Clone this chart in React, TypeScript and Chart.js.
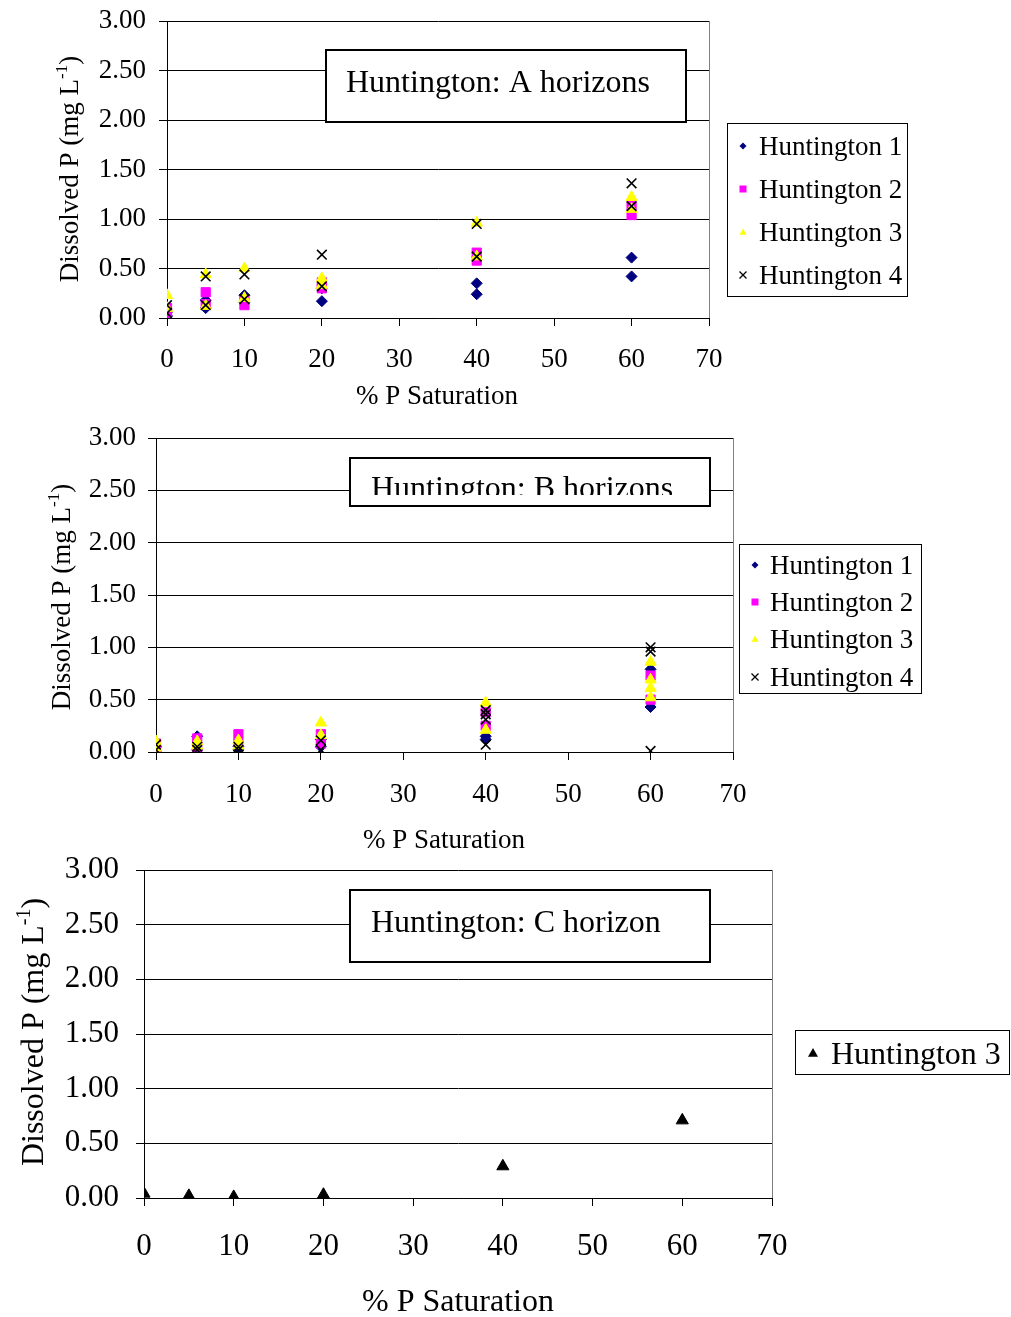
import React, { useEffect, useRef } from 'react';
import { Chart, registerables } from 'chart.js';

Chart.register(...registerables);

// ---- data: [% P saturation, dissolved P (mg/L)] ----
const seriesNames = ['Huntington 1', 'Huntington 2', 'Huntington 3', 'Huntington 4'];
const seriesColors = ['#000080', '#FF00FF', '#FFFF00', '#000000'];
const seriesShapes = ['rectRot', 'rect', 'triangle', 'crossRot'];
const xTickValues = [0, 10, 20, 30, 40, 50, 60, 70];
const yTickValues = [0, 0.5, 1, 1.5, 2, 2.5, 3];

const aHuntington1: [number, number][] = [[0, 0.02], [0, 0.06], [5, 0.10], [5, 0.18], [10, 0.23], [10, 0.16], [20, 0.17], [20, 0.30], [40, 0.35], [40, 0.24], [60, 0.61], [60, 0.42]];
const aHuntington2: [number, number][] = [[0, 0.10], [0, 0.05], [5, 0.26], [5, 0.14], [10, 0.18], [10, 0.13], [20, 0.36], [20, 0.30], [40, 0.66], [40, 0.58], [60, 1.13], [60, 1.04]];
const aHuntington3: [number, number][] = [[0, 0.23], [0, 0.10], [5, 0.44], [5, 0.12], [10, 0.50], [10, 0.20], [20, 0.40], [20, 0.33], [40, 0.96], [40, 0.62], [60, 1.22], [60, 1.10]];
const aHuntington4: [number, number][] = [[0, 0.13], [0, 0.05], [5, 0.42], [5, 0.13], [10, 0.44], [10, 0.19], [20, 0.64], [20, 0.32], [40, 0.95], [40, 0.62], [60, 1.36], [60, 1.13]];

const bHuntington1: [number, number][] = [[0, 0.01], [0, 0.05], [5, 0.15], [5, 0.02], [10, 0.05], [10, 0.02], [20, 0.05], [20, 0.12], [40, 0.15], [40, 0.12], [60, 0.79], [60, 0.43]];
const bHuntington2: [number, number][] = [[0, 0.08], [0, 0.03], [5, 0.13], [5, 0.05], [10, 0.17], [10, 0.08], [20, 0.17], [20, 0.08], [40, 0.38], [40, 0.25], [60, 0.73], [60, 0.50]];
const bHuntington3: [number, number][] = [[0, 0.10], [0, 0.04], [5, 0.10], [5, 0.06], [10, 0.11], [10, 0.06], [20, 0.28], [20, 0.16], [40, 0.47], [40, 0.21], [60, 0.86], [60, 0.69], [60, 0.61], [60, 0.52]];
const bHuntington4: [number, number][] = [[0, 0.07], [0, 0.02], [5, 0.05], [5, 0.02], [10, 0.05], [10, 0.02], [20, 0.11], [20, 0.02], [40, 0.40], [40, 0.31], [40, 0.36], [40, 0.07], [60, 1.00], [60, 0.96], [60, 0.01]];

const cHuntington3: [number, number][] = [[0, 0.04], [5, 0.02], [10, 0.01], [20, 0.03], [40, 0.29], [60, 0.71]];

const SERIF = "'Liberation Serif', 'Times New Roman', serif";
const PAGE_W = 1011;

type Series = { name: string; color: string; shape: string; radius: number; points: [number, number][] };

type PanelCfg = {
  top: number;
  height: number;
  plot: { l: number; r: number; t: number; b: number };
  tickSize: number;
  tickPadX: number;
  tickPadY: number;
  axisSize: number;
  yTitle: { x: number; y: number };
  xTitle: { x: number; y: number };
  box: { l: number; t: number; r: number; b: number; text: string; tx: number; ty: number; clipY?: number };
  legend: { l: number; t: number; r: number; b: number; rowsY: number[]; markerX: number; textX: number; size: number; markerR: number };
  series: Series[];
};

function fourSeries(data: [number, number][][]): Series[] {
  const radii = [5.5, 6.5, 6.5, 6.8];
  return data.map((points, i) => ({
    name: seriesNames[i],
    color: seriesColors[i],
    shape: seriesShapes[i],
    radius: radii[i],
    points,
  }));
}

const panels: PanelCfg[] = [
  {
    top: -12,
    height: 422,
    plot: { l: 167, r: 709, t: 21, b: 318 },
    tickSize: 27,
    tickPadX: 18,
    tickPadY: 13,
    axisSize: 27,
    yTitle: { x: 78, y: 169 },
    xTitle: { x: 437, y: 404 },
    box: { l: 326, t: 50, r: 686, b: 122, text: 'Huntington: A horizons', tx: 346, ty: 92 },
    legend: { l: 727, t: 123, r: 907, b: 296, rowsY: [146, 189, 232, 275], markerX: 743, textX: 759, size: 27, markerR: 3.5 },
    series: fourSeries([aHuntington1, aHuntington2, aHuntington3, aHuntington4]),
  },
  {
    top: 400,
    height: 460,
    plot: { l: 156, r: 733, t: 438, b: 752 },
    tickSize: 27,
    tickPadX: 19,
    tickPadY: 12,
    axisSize: 27,
    yTitle: { x: 70, y: 597 },
    xTitle: { x: 444, y: 848 },
    box: { l: 350, t: 458, r: 710, b: 506, text: 'Huntington: B horizons', tx: 371, ty: 498, clipY: 495 },
    legend: { l: 739, t: 544, r: 921, b: 693, rowsY: [565, 602, 639, 677], markerX: 755, textX: 770, size: 27, markerR: 3.5 },
    series: fourSeries([bHuntington1, bHuntington2, bHuntington3, bHuntington4]),
  },
  {
    top: 828,
    height: 489,
    plot: { l: 144, r: 772, t: 870, b: 1198 },
    tickSize: 31,
    tickPadX: 22,
    tickPadY: 17,
    axisSize: 32,
    yTitle: { x: 43, y: 1032 },
    xTitle: { x: 458, y: 1311 },
    box: { l: 350, t: 890, r: 710, b: 962, text: 'Huntington: C horizon', tx: 371, ty: 932 },
    legend: { l: 795, t: 1030, r: 1009, b: 1074, rowsY: [1053], markerX: 813, textX: 831, size: 32, markerR: 5 },
    series: [{ name: 'Huntington 3', color: '#000000', shape: 'triangle', radius: 7, points: cHuntington3 }],
  },
];

function drawMarker(ctx: CanvasRenderingContext2D, shape: string, x: number, y: number, r: number, color: string) {
  ctx.save();
  ctx.fillStyle = color;
  ctx.strokeStyle = color;
  ctx.beginPath();
  if (shape === 'rectRot') {
    ctx.moveTo(x, y - r);
    ctx.lineTo(x + r, y);
    ctx.lineTo(x, y + r);
    ctx.lineTo(x - r, y);
    ctx.closePath();
    ctx.fill();
  } else if (shape === 'rect') {
    ctx.rect(x - r, y - r, 2 * r, 2 * r);
    ctx.fill();
  } else if (shape === 'triangle') {
    ctx.moveTo(x, y - r);
    ctx.lineTo(x + r, y + r * 0.75);
    ctx.lineTo(x - r, y + r * 0.75);
    ctx.closePath();
    ctx.fill();
  } else {
    ctx.lineWidth = 1.3;
    ctx.moveTo(x - r, y - r);
    ctx.lineTo(x + r, y + r);
    ctx.moveTo(x + r, y - r);
    ctx.lineTo(x - r, y + r);
    ctx.stroke();
  }
  ctx.restore();
}

function makeOverlay(p: PanelCfg) {
  return {
    id: 'panelOverlay',
    afterDraw(chart: Chart) {
      const ctx = chart.ctx;
      const area = chart.chartArea;
      ctx.save();
      ctx.translate(0, -p.top);

      // plot frame, right side
      ctx.strokeStyle = '#808080';
      ctx.lineWidth = 1;
      ctx.beginPath();
      ctx.moveTo(area.right + 0.5, area.top + p.top);
      ctx.lineTo(area.right + 0.5, area.bottom + p.top);
      ctx.stroke();

      // y axis title with superscript
      ctx.save();
      ctx.translate(p.yTitle.x, p.yTitle.y);
      ctx.rotate(-Math.PI / 2);
      ctx.fillStyle = '#000';
      ctx.textBaseline = 'alphabetic';
      const main = `${p.axisSize}px ${SERIF}`;
      const sup = `${Math.round(p.axisSize * 0.62)}px ${SERIF}`;
      const partA = 'Dissolved P (mg L';
      const partB = '-1';
      const partC = ')';
      ctx.font = main;
      const wA = ctx.measureText(partA).width;
      const wC = ctx.measureText(partC).width;
      ctx.font = sup;
      const wB = ctx.measureText(partB).width;
      let cx = -(wA + wB + wC) / 2;
      ctx.font = main;
      ctx.fillText(partA, cx, 0);
      cx += wA;
      ctx.font = sup;
      ctx.fillText(partB, cx, -p.axisSize * 0.42);
      cx += wB;
      ctx.font = main;
      ctx.fillText(partC, cx, 0);
      ctx.restore();

      // x axis title
      ctx.fillStyle = '#000';
      ctx.font = `${p.axisSize}px ${SERIF}`;
      ctx.textAlign = 'center';
      ctx.textBaseline = 'alphabetic';
      ctx.fillText('% P Saturation', p.xTitle.x, p.xTitle.y);

      // title box
      const b = p.box;
      ctx.fillStyle = '#fff';
      ctx.fillRect(b.l, b.t, b.r - b.l, b.b - b.t);
      ctx.save();
      if (b.clipY !== undefined) {
        ctx.beginPath();
        ctx.rect(b.l, b.t, b.r - b.l, b.clipY - b.t);
        ctx.clip();
      }
      ctx.fillStyle = '#000';
      ctx.font = `32px ${SERIF}`;
      ctx.textAlign = 'left';
      ctx.fillText(b.text, b.tx, b.ty);
      ctx.restore();
      ctx.strokeStyle = '#000';
      ctx.lineWidth = 2;
      ctx.strokeRect(b.l, b.t, b.r - b.l, b.b - b.t);

      // legend
      const lg = p.legend;
      ctx.fillStyle = '#fff';
      ctx.fillRect(lg.l, lg.t, lg.r - lg.l, lg.b - lg.t);
      ctx.strokeStyle = '#000';
      ctx.lineWidth = 1;
      ctx.strokeRect(lg.l + 0.5, lg.t + 0.5, lg.r - lg.l, lg.b - lg.t);
      ctx.font = `${lg.size}px ${SERIF}`;
      ctx.textAlign = 'left';
      p.series.forEach((s, i) => {
        const y = lg.rowsY[i];
        drawMarker(ctx, s.shape, lg.markerX, y, lg.markerR, s.color);
        ctx.fillStyle = '#000';
        ctx.fillText(s.name, lg.textX, y + lg.size * 0.33);
      });

      ctx.restore();
    },
  };
}

function ChartPanel({ cfg }: { cfg: PanelCfg }) {
  const ref = useRef<HTMLCanvasElement>(null);

  useEffect(() => {
    const canvas = ref.current;
    if (!canvas) return;
    const tickFont = { family: SERIF, size: cfg.tickSize };
    const chart = new Chart(canvas, {
      type: 'scatter',
      data: {
        datasets: cfg.series.map((s, i) => ({
          label: s.name,
          data: s.points.map(([x, y]) => ({ x, y })),
          pointStyle: s.shape as any,
          pointRadius: s.radius,
          pointHoverRadius: s.radius,
          backgroundColor: s.color,
          borderColor: s.color,
          pointBorderWidth: s.shape === 'crossRot' ? 1.6 : 1,
          showLine: false,
          order: cfg.series.length - 1 - i,
        })),
      },
      options: {
        responsive: false,
        animation: false,
        devicePixelRatio: 1,
        events: [],
        layout: {
          padding: {
            left: 0,
            top: cfg.plot.t - cfg.top,
            right: PAGE_W - cfg.plot.r,
            bottom: 0,
          },
        },
        plugins: {
          legend: { display: false },
          title: { display: false },
          tooltip: { enabled: false },
        },
        scales: {
          x: {
            type: 'linear',
            min: 0,
            max: 70,
            afterBuildTicks: (scale: any) => {
              scale.ticks = xTickValues.map((value) => ({ value }));
            },
            ticks: { font: tickFont, color: '#000', padding: cfg.tickPadX, maxRotation: 0 },
            grid: { drawOnChartArea: false, tickLength: 8, color: '#000', lineWidth: 1 },
            border: { color: '#000', width: 1 },
            afterFit: (scale: any) => {
              scale.height = cfg.top + cfg.height - cfg.plot.b;
            },
          },
          y: {
            type: 'linear',
            min: 0,
            max: 3,
            afterBuildTicks: (scale: any) => {
              scale.ticks = yTickValues.map((value) => ({ value }));
            },
            ticks: {
              font: tickFont,
              color: '#000',
              padding: cfg.tickPadY,
              callback: (v: any) => Number(v).toFixed(2),
            },
            grid: { color: '#000', lineWidth: 1, tickLength: 8 },
            border: { color: '#000', width: 1 },
            afterFit: (scale: any) => {
              scale.width = cfg.plot.l;
            },
          },
        },
      },
      plugins: [makeOverlay(cfg)],
    });
    return () => chart.destroy();
  }, [cfg]);

  return (
    <canvas
      ref={ref}
      width={PAGE_W}
      height={cfg.height}
      style={{ position: 'absolute', left: 0, top: cfg.top, width: PAGE_W, height: cfg.height }}
    />
  );
}

export default function App() {
  return (
    <div style={{ position: 'absolute', left: 0, top: 0, width: PAGE_W, height: 1317, background: '#fff', overflow: 'hidden' }}>
      {panels.map((cfg, i) => (
        <ChartPanel key={i} cfg={cfg} />
      ))}
    </div>
  );
}
